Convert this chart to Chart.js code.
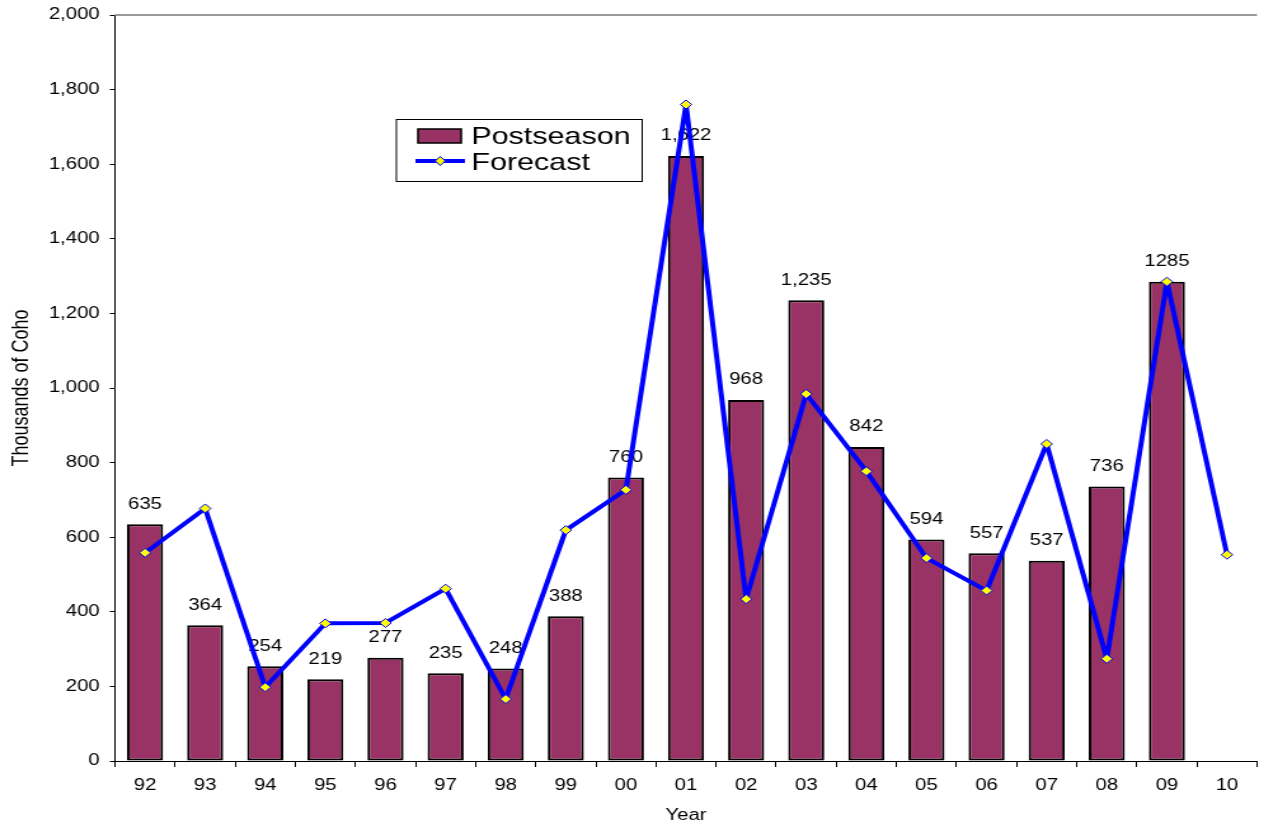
<!DOCTYPE html>
<html>
<head>
<meta charset="utf-8">
<title>Coho Postseason vs Forecast</title>
<script src="https://cdn.jsdelivr.net/npm/chart.js@4.4.1/dist/chart.umd.min.js"></script>
<style>
    html, body { margin: 0; padding: 0; background: #ffffff; overflow: hidden; }
    /* The source picture is stretched sideways, so the chart is drawn
     * narrower and widened with a transform */
    #chart-box {
        position: absolute; left: 0; top: 0;
        width: 995px; height: 827px;
        transform: scaleX(1.2704);
        transform-origin: 0 0;
    }
</style>
</head>
<body>
<div id="chart-box"><canvas id="myChart"></canvas></div>
<script>
/* Data */
const years = ['92', '93', '94', '95', '96', '97', '98', '99', '00', '01', '02', '03', '04', '05', '06', '07', '08', '09', '10'];
const postseason = [635, 364, 254, 219, 277, 235, 248, 388, 760, 1622, 968, 1235, 842, 594, 557, 537, 736, 1285, null];
const postseasonLabels = ['635', '364', '254', '219', '277', '235', '248', '388', '760', '1,622', '968', '1,235', '842', '594', '557', '537', '736', '1285', ''];
const forecast = [558, 677, 198, 369, 370, 462, 166, 619, 727, 1760, 434, 984, 777, 544, 457, 850, 274, 1285, 553];
const yTicks = [0, 200, 400, 600, 800, 1000, 1200, 1400, 1600, 1800, 2000];

const fontFamily = "'Liberation Sans', Arial, sans-serif";
const barColor = '#993366';
const lineColor = '#0000ff';
const markerColor = '#ffff00';

/* Value labels above the bars */
const barLabels = {
    id: 'barLabels',
    beforeDatasetsDraw(chart) {
        const ctx = chart.ctx;
        const meta = chart.getDatasetMeta(0);
        ctx.save();
        ctx.font = '16px ' + fontFamily;
        ctx.fillStyle = '#000000';
        ctx.textAlign = 'center';
        ctx.textBaseline = 'middle';
        meta.data.forEach((bar, i) => {
            if (postseason[i] == null) return;
            ctx.fillText(postseasonLabels[i], bar.x, bar.y - 20);
        });
        ctx.restore();
    }
};

/* Grey plot-area border on top, plus the boxed legend */
const frameAndLegend = {
    id: 'frameAndLegend',
    afterDraw(chart) {
        const ctx = chart.ctx;
        const area = chart.chartArea;
        ctx.save();

        ctx.strokeStyle = '#999999';
        ctx.lineWidth = 2;
        ctx.beginPath();
        ctx.moveTo(area.left, area.top);
        ctx.lineTo(area.right, area.top);
        ctx.stroke();

        // legend box
        ctx.fillStyle = '#ffffff';
        ctx.fillRect(312, 119, 193.5, 62);
        ctx.strokeStyle = '#000000';
        ctx.lineWidth = 1;
        ctx.strokeRect(312, 119.5, 193.5, 62);

        // Postseason swatch
        ctx.fillStyle = barColor;
        ctx.fillRect(329, 129, 34, 14);
        ctx.lineWidth = 1.5;
        ctx.strokeRect(329, 129, 34, 14);

        // Forecast line with its marker
        ctx.strokeStyle = lineColor;
        ctx.lineWidth = 4;
        ctx.beginPath();
        ctx.moveTo(327, 161);
        ctx.lineTo(366, 161);
        ctx.stroke();
        ctx.fillStyle = markerColor;
        ctx.lineWidth = 1;
        ctx.beginPath();
        ctx.moveTo(346.5, 156.5);
        ctx.lineTo(350.5, 161);
        ctx.lineTo(346.5, 165.5);
        ctx.lineTo(342.5, 161);
        ctx.closePath();
        ctx.fill();
        ctx.stroke();

        ctx.fillStyle = '#000000';
        ctx.font = '24px ' + fontFamily;
        ctx.textAlign = 'left';
        ctx.textBaseline = 'middle';
        ctx.fillText('Postseason', 371, 137);
        ctx.fillText('Forecast', 371, 163);
        ctx.restore();
    }
};

const ctx = document.getElementById('myChart');

new Chart(ctx, {
    type: 'bar',
    data: {
        labels: years,
        datasets: [{
            type: 'bar',
            label: 'Postseason',
            data: postseason,
            backgroundColor: barColor,
            borderColor: '#000000',
            borderWidth: 2,
            borderSkipped: false,
            barPercentage: 0.6,
            categoryPercentage: 1.0,
            order: 2
        }, {
            type: 'line',
            label: 'Forecast',
            data: forecast,
            borderColor: lineColor,
            borderWidth: 4,
            borderJoinStyle: 'round',
            tension: 0,
            pointStyle: 'rectRot',
            pointRadius: 4.5,
            pointBackgroundColor: markerColor,
            pointBorderColor: lineColor,
            pointBorderWidth: 1,
            order: 1
        }]
    },
    options: {
        responsive: true,
        maintainAspectRatio: false,
        animation: false,
        layout: {
            padding: { top: 15, right: 0, bottom: 0, left: 0 }
        },
        plugins: {
            legend: { display: false },
            tooltip: { enabled: false }
        },
        scales: {
            x: {
                offset: true,
                afterFit: (scale) => { scale.height = 66; },
                border: { display: true, color: '#000000', width: 1 },
                grid: {
                    offset: true,
                    drawOnChartArea: false,
                    drawTicks: true,
                    tickLength: 6,
                    color: '#000000'
                },
                ticks: {
                    color: '#000000',
                    padding: 9,
                    maxRotation: 0,
                    font: { family: fontFamily, size: 16 }
                },
                title: {
                    display: true,
                    text: 'Year',
                    color: '#000000',
                    padding: { top: 0, bottom: 2 },
                    font: { family: fontFamily, size: 16 }
                }
            },
            y: {
                min: 0,
                max: 2000,
                afterFit: (scale) => {
                    scale.width = 90.5;
                    // let the layout padding alone fix the plot top
                    scale.paddingTop = 0;
                    scale.paddingBottom = 0;
                },
                afterBuildTicks: (scale) => {
                    scale.ticks = yTicks.map(v => ({ value: v }));
                },
                border: { display: true, color: '#000000', width: 1 },
                grid: {
                    drawOnChartArea: false,
                    drawTicks: true,
                    tickLength: 4,
                    color: '#000000'
                },
                ticks: {
                    color: '#000000',
                    padding: 8,
                    font: { family: fontFamily, size: 16 },
                    callback: (value) => value.toLocaleString('en-US')
                },
                title: {
                    display: true,
                    text: 'Thousands of Coho',
                    color: '#000000',
                    padding: { top: 6, bottom: 0 },
                    font: { family: fontFamily, size: 18 }
                }
            }
        }
    },
    plugins: [barLabels, frameAndLegend]
});
</script>
</body>
</html>
